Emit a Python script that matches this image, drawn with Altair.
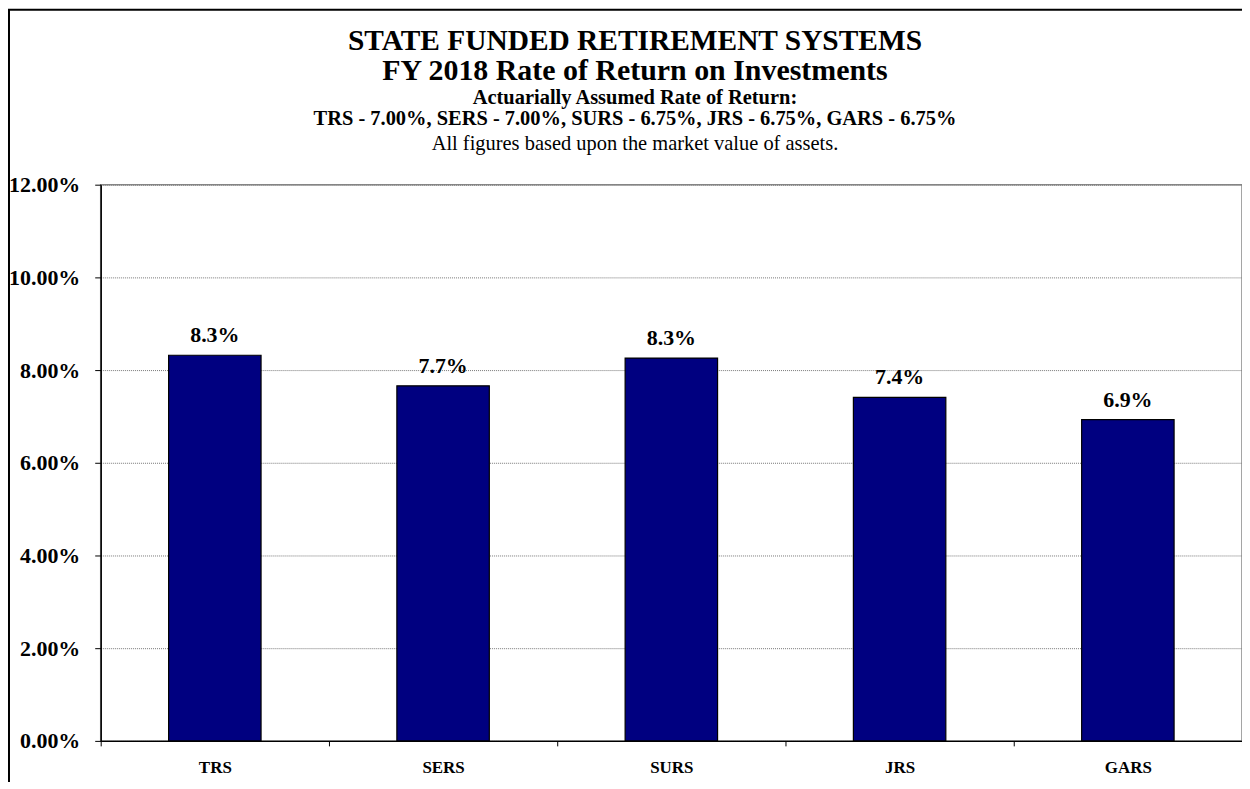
import altair as alt
import pandas as pd

systems = ["TRS", "SERS", "SURS", "JRS", "GARS"]
returns = [8.32, 7.66, 8.26, 7.41, 6.93]
y_ticks = [0, 2, 4, 6, 8, 10, 12]

title_lines = [
    "STATE FUNDED RETIREMENT SYSTEMS",
    "FY 2018 Rate of Return on Investments",
    "Actuarially Assumed Rate of Return:",
    "TRS - 7.00%, SERS - 7.00%, SURS - 6.75%, JRS - 6.75%, GARS - 6.75%",
    "All figures based upon the market value of assets.",
]

df = pd.DataFrame({"system": systems, "ret": returns})
FONT = "Liberation Serif"

x = alt.X("system:N", sort=systems, title=None,
          scale=alt.Scale(paddingInner=0, paddingOuter=0),
          axis=alt.Axis(tickBand="extent", labelAngle=0, labelFont=FONT,
                        labelFontSize=17, labelFontWeight="bold", labelColor="black",
                        labelPadding=14, tickSize=5, tickColor="black",
                        domainColor="black", domainWidth=1.5, grid=False))
y = alt.Y("ret:Q", title=None,
          scale=alt.Scale(domain=[0, 12], nice=False),
          axis=alt.Axis(values=y_ticks, labelExpr="format(datum.value, '.2f') + '%'",
                        labelFont=FONT, labelFontSize=22, labelFontWeight="bold",
                        labelColor="black", labelPadding=15, tickSize=6,
                        tickColor="black", domainColor="black", domainWidth=1.5,
                        grid=True, gridColor="#777777", gridDash=[1, 1], gridWidth=1))

bars = alt.Chart(df).mark_bar(width=alt.RelativeBandSize(0.405), color="#000080",
                             stroke="black", strokeWidth=1.2).encode(x=x, y=y)

labels = alt.Chart(df).transform_calculate(
    lbl="format(datum.ret, '.1f') + '%'"
).mark_text(font=FONT, fontSize=22, fontWeight="bold", color="black",
            baseline="alphabetic", dy=-13).encode(
    x=alt.X("system:N", sort=systems),
    y=alt.Y("ret:Q"),
    text="lbl:N",
)

sizes = [29.5, 30, 20.5, 20.5, 20.5]
weights = ["bold", "bold", "bold", "bold", "normal"]
ys = [-144, -114, -87, -66, -41]
title_layers = []
for i, line in enumerate(title_lines):
    title_layers.append(
        alt.Chart(pd.DataFrame({"t": [line]})).mark_text(
            font=FONT, fontSize=sizes[i], fontWeight=weights[i], color="black",
            align="center", baseline="middle"
        ).encode(x=alt.value(536), y=alt.value(ys[i]), text="t:N")
    )

frame_left = alt.Chart(pd.DataFrame({"a": [0]})).mark_rule(color="black", strokeWidth=2).encode(
    x=alt.value(-92), y=alt.value(-176), y2=alt.value(600))
frame_top = alt.Chart(pd.DataFrame({"a": [0]})).mark_rule(color="black", strokeWidth=2).encode(
    x=alt.value(-93), x2=alt.value(1160), y=alt.value(-175.5))

chart = alt.layer(bars, labels, *title_layers, frame_left, frame_top).properties(
    width=1145, height=558,
    autosize=alt.AutoSizeParams(type="none"),
    padding={"left": 93, "top": 176, "right": 0, "bottom": 40},
    background="white",
).configure_view(stroke="#888888", strokeWidth=1.5)

chart.save("out.html", embed_options={"renderer": "svg", "actions": False})
